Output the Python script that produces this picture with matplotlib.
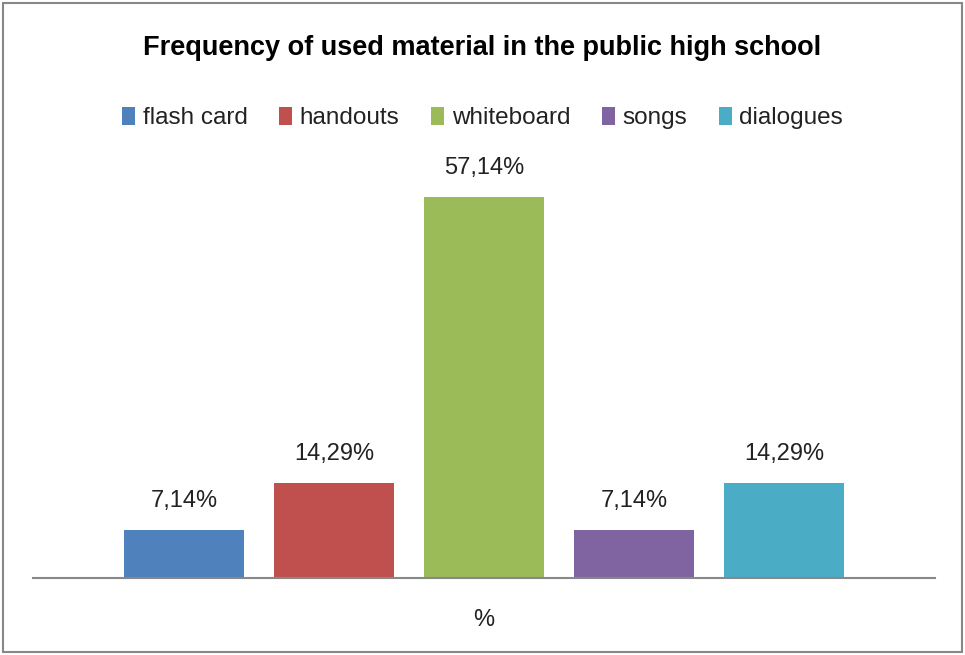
'''Frequency of used material in the public high school'''

import matplotlib.pyplot as plt
from matplotlib.patches import Rectangle

### データ
materials = ['flash card', 'handouts', 'whiteboard', 'songs', 'dialogues']
percents = [7.14, 14.29, 57.14, 7.14, 14.29]
labels = ['7,14%', '14,29%', '57,14%', '7,14%', '14,29%']
colors = ['#4f81bd', '#c0504d', '#9bbb59', '#8064a2', '#4bacc6']

plt.rcParams['font.family'] = ['Liberation Sans', 'DejaVu Sans']

### 描画
fig = plt.figure(figsize=(9.65, 6.55), dpi=100)
ax = fig.add_axes([33/965, 77/655, 902/965, 400/655])

for i, (m, v, lb, c) in enumerate(zip(materials, percents, labels, colors)):
    ax.bar(i, v, width=0.8, color=c, label=m)
    ax.text(i, v + 2.7, lb, ha='center', va='bottom', fontsize=17, color='#222222')

ax.set_xlim(-1.007, 5.007)
ax.set_ylim(0, 60)
ax.set_yticks([])
ax.set_xticks([])
for s in ['left', 'right', 'top']:
    ax.spines[s].set_visible(False)
ax.spines['bottom'].set_color('#888888')
ax.spines['bottom'].set_linewidth(1.5)
ax.set_xlabel('%', fontsize=17, labelpad=22, color='#222222')

#### タイトル、凡例
fig.text(0.5, 1 - 48/655, 'Frequency of used material in the public high school',
         ha='center', va='center', fontsize=19.5, fontweight='bold')
fig.legend(loc='center', bbox_to_anchor=(0.5, 1 - 118/655), ncol=5, frameon=False,
           fontsize=17.5, handlelength=0.55, handleheight=0.75, handletextpad=0.3,
           columnspacing=1.3, labelcolor='#222222')

#### 外枠
fig.patches.append(Rectangle((3/965, 3/655), 959/965, 649/655, transform=fig.transFigure,
                             fill=False, edgecolor='#888888', linewidth=1.5))

fig.savefig('out.png')
